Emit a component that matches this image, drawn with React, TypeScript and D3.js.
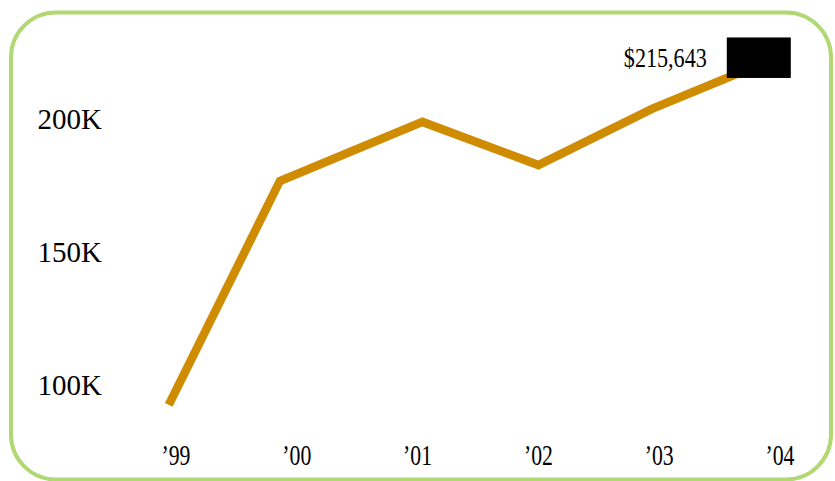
import React from "react";
import * as d3 from "d3";

const tickYears = [1999, 2000, 2001, 2002, 2003, 2004];
const tickLabels = ["\u201999", "\u201900", "\u201901", "\u201902", "\u201903", "\u201904"];
const pointDates = [1998.94, 1999.86, 2001.04, 2002.0, 2002.94, 2003.75];
const values = [92500, 176700, 198900, 182700, 203800, 219000];
const calloutValue = 215643;
const yTicks = [100000, 150000, 200000];
const yTickLabels = ["100K", "150K", "200K"];

const W = 835;
const H = 481;

export default function App() {
  const x = d3.scaleLinear().domain([1999, 2004]).range([176, 780]);
  const y = d3.scaleLinear().domain([100000, 200000]).range([385, 119]);
  const pts: [number, number][] = values.map((v, i) => [x(pointDates[i]), y(v)]);
  const line = d3.line()(pts) || "";
  const last = pts[pts.length - 1];
  const fmt = d3.format("$,");
  const font = "'Liberation Serif', 'Times New Roman', serif";

  return (
    <svg
      width={W}
      height={H}
      style={{ position: "absolute", left: 0, top: 0, background: "#fff" }}
    >
      <rect x={11} y={12.5} width={820} height={467} rx={45} ry={45} fill="#fff" stroke="#b1d873" strokeWidth={4} />
      {yTicks.map((t, i) => (
        <text key={t} x={102} y={y(t) + 9.5} textAnchor="end" fontFamily={font} fontSize={29} fill="#000">
          {yTickLabels[i]}
        </text>
      ))}
      {tickYears.map((t, i) => (
        <text
          key={t}
          transform={`translate(${x(t)},465) scale(0.75,1)`}
          textAnchor="middle"
          fontFamily={font}
          fontSize={29}
          fill="#000"
        >
          {tickLabels[i]}
        </text>
      ))}
      <path d={line} fill="none" stroke="#d08c00" strokeWidth={8.5} strokeLinejoin="miter" strokeLinecap="butt" />
      <rect x={last[0] - 23} y={last[1] - 31} width={64} height={40.5} fill="#000" />
      <text
        transform={`translate(${last[0] - 43},${last[1] - 1.5}) scale(0.82,1)`}
        textAnchor="end"
        fontFamily={font}
        fontSize={27}
        fill="#000"
      >
        {fmt(calloutValue)}
      </text>
    </svg>
  );
}
